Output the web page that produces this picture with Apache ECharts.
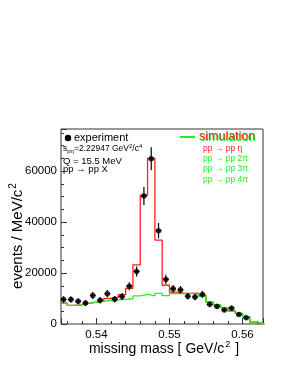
<!DOCTYPE html>
<html><head><meta charset="utf-8">
<script src="https://cdn.jsdelivr.net/npm/echarts@6/dist/echarts.min.js"></script>
<style>html,body{margin:0;padding:0;background:#fff}#c{width:291px;height:376px}</style>
</head><body><div id="c"></div><script>
// histogram bins (centres, GeV/c^2), bin width 1 MeV
const binCenters = [0.5355,0.5365,0.5375,0.5385,0.5395,0.5405,0.5415,0.5425,0.5435,0.5445,0.5455,0.5465,0.5475,0.5485,0.5495,0.5505,0.5515,0.5525,0.5535,0.5545,0.5555,0.5565,0.5575,0.5585,0.5595,0.5605,0.5615,0.5625];
// simulated background sum (pp -> pp 2pi + 3pi + 4pi), green
const simBackground = [8200,7300,7500,8100,8600,8900,9300,9500,9700,9900,11000,11600,11000,12000,11100,11900,12000,11900,11800,10800,8500,7500,6400,5100,4200,2900,700,0];
// total simulation incl. pp -> pp eta, red
const simTotal = [8200,7300,7500,8100,8600,8900,10000,10500,11500,14000,23200,50500,65000,32900,15200,12500,12100,12000,12100,11200,8600,7500,6400,5100,4200,2900,700,0];
// experiment
const expMass = [0.5355,0.5365,0.5375,0.5385,0.5395,0.5405,0.5415,0.5425,0.5435,0.5445,0.5455,0.5465,0.5475,0.5485,0.5495,0.5505,0.5515,0.5525,0.5535,0.5545,0.5555,0.5565,0.5575,0.5585,0.5595,0.5605];
const expEvents = [9600,9600,8900,8200,11200,9300,11900,9700,10800,14800,20600,50200,64800,36600,17500,13800,13400,10900,10600,11600,7700,6900,5500,6200,3700,2500];
const expErrors = [1300,1300,1200,1200,1400,1300,1400,1300,1400,1600,2000,3500,4500,3000,1800,1500,1500,1300,1300,1400,1100,1000,900,1000,800,700];
const binWidth = 0.001;
const xTickLabels = ['0.54','0.55','0.56'];
const yTickLabels = ['0','20000','40000','60000'];

function histLine(vals){
  const out=[];
  binCenters.forEach((c,i)=>{ out.push([c-binWidth/2, vals[i]]); out.push([c+binWidth/2, vals[i]]); });
  return out;
}
const FONT = '"Liberation Sans", Arial, sans-serif';
const chart = echarts.init(document.getElementById('c'), null, {renderer:'canvas'});
const hx = 0.0004;
chart.setOption({
  animation:false,
  backgroundColor:'#fff',
  grid:{left:61,right:28,top:129,bottom:52,show:true,borderColor:'#333',borderWidth:1,containLabel:false,outerBoundsMode:'none'},
  xAxis:{type:'value',min:0.53515,max:0.5628,splitNumber:3,
    axisLine:{show:false},
    axisTick:{inside:true,length:6,lineStyle:{color:'#333'}},
    minorTick:{show:true,splitNumber:5,length:3,lineStyle:{color:'#333'}},
    splitLine:{show:false},
    axisLabel:{showMinLabel:false,showMaxLabel:false,color:'#000',fontFamily:FONT,fontSize:11.5,margin:5,
      formatter:v=>{const s=v.toFixed(2); return xTickLabels.includes(s)?s:'';}}},
  yAxis:{type:'value',min:0,max:76500,interval:20000,
    axisLine:{show:false},
    axisTick:{inside:true,length:6,lineStyle:{color:'#333'}},
    minorTick:{show:true,splitNumber:4,length:3,lineStyle:{color:'#333'}},
    splitLine:{show:false},
    axisLabel:{showMaxLabel:false,color:'#000',fontFamily:FONT,fontSize:11.5,margin:4,
      formatter:v=>{const s=String(v); return yTickLabels.includes(s)?s:'';}}},
  series:[
    {type:'line',data:histLine(simTotal),symbol:'none',lineStyle:{color:'#ff2020',width:1.3},z:2,clip:true},
    {type:'line',data:histLine(simBackground),symbol:'none',lineStyle:{color:'#22ee22',width:1.3},z:3,clip:true},
    {type:'custom',z:5,
      data:expMass.map((m,i)=>[m,expEvents[i],expErrors[i]]),
      renderItem:(params,api)=>{
        const x=api.value(0), y=api.value(1), e=api.value(2);
        const l=api.coord([x-hx,y]), r=api.coord([x+hx,y]), t=api.coord([x,y+e]), b=api.coord([x,y-e]);
        return {type:'group',children:[
          {type:'line',shape:{x1:l[0],y1:l[1],x2:r[0],y2:r[1]},style:{stroke:'#000',lineWidth:1.2}},
          {type:'line',shape:{x1:t[0],y1:t[1],x2:b[0],y2:b[1]},style:{stroke:'#000',lineWidth:1.2}}
        ]};
      }},
    {type:'scatter',z:6,data:expMass.map((m,i)=>[m,expEvents[i]]),symbol:'circle',symbolSize:5.5,itemStyle:{color:'#000'}}
  ],
  graphic:[
    {type:'circle',shape:{cx:68,cy:138,r:3.2},style:{fill:'#000'}},
    {type:'text',x:74,y:138,style:{text:'experiment',font:'11px '+FONT,fill:'#000',verticalAlign:'middle'}},
    {type:'text',x:63,y:149,style:{text:'{n|s}{sub|pη}{n|=2.22947 GeV}{sup|2}{n|/c}{sup|4}',verticalAlign:'middle',
      rich:{n:{font:'8.5px '+FONT,fill:'#000'},sub:{font:'6px '+FONT,fill:'#000',verticalAlign:'bottom',padding:[4,0,0,0]},sup:{font:'6px '+FONT,fill:'#000',verticalAlign:'top',padding:[0,0,5,0]}}}},
    {type:'text',x:63,y:161,style:{text:'Q = 15.5 MeV',font:'9.5px '+FONT,fill:'#000',verticalAlign:'middle'}},
    {type:'text',x:63,y:169,style:{text:'pp → pp X',font:'9.5px '+FONT,fill:'#000',verticalAlign:'middle'}},
    {type:'line',shape:{x1:180,y1:137,x2:195,y2:137},style:{stroke:'#22ee22',lineWidth:2}},
    {type:'text',x:199.8,y:137.6,style:{text:'simulation',font:'12.5px '+FONT,fill:'#22ee22',verticalAlign:'middle'}},
    {type:'text',x:199,y:137,style:{text:'simulation',font:'12.5px '+FONT,fill:'#ff2020',verticalAlign:'middle'}},
    {type:'text',x:203,y:149,style:{text:'pp → pp η',font:'8.5px '+FONT,fill:'#ff2020',verticalAlign:'middle'}},
    {type:'text',x:203,y:158.7,style:{text:'pp → pp 2π',font:'8.5px '+FONT,fill:'#22ee22',verticalAlign:'middle'}},
    {type:'text',x:203,y:168.7,style:{text:'pp → pp 3π',font:'8.5px '+FONT,fill:'#22ee22',verticalAlign:'middle'}},
    {type:'text',x:203,y:179.3,style:{text:'pp → pp 4π',font:'8.5px '+FONT,fill:'#22ee22',verticalAlign:'middle'}},
    {type:'text',x:164,y:349,style:{text:'{n|missing mass [ GeV/c}{sup|2}{n| ]}',align:'center',verticalAlign:'middle',
      rich:{n:{font:'14px '+FONT,fill:'#000'},sup:{font:'9px '+FONT,fill:'#000',verticalAlign:'top',padding:[0,1,8,1]}}}},
    {type:'text',x:18,y:236,rotation:Math.PI/2,style:{text:'{n|events / MeV/c}{sup|2}',align:'center',verticalAlign:'middle',
      rich:{n:{font:'15px '+FONT,fill:'#000'},sup:{font:'10px '+FONT,fill:'#000',verticalAlign:'top',padding:[0,0,9,1]}}}}
  ]
});
</script></body></html>
